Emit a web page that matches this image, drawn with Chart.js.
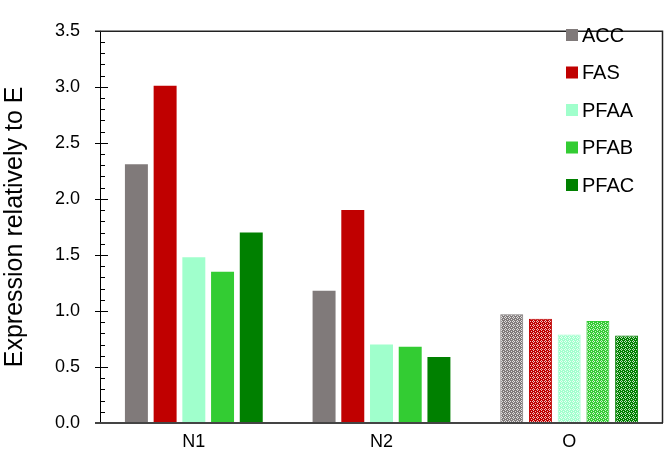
<!DOCTYPE html>
<html>
<head>
<meta charset="utf-8">
<script src="https://cdn.jsdelivr.net/npm/chart.js@4.4.1/dist/chart.umd.min.js"></script>
<style>
  html, body { margin: 0; padding: 0; background: #fff; }
  #wrap { width: 664px; height: 460px; }
</style>
</head>
<body>
<div id="wrap"><canvas id="expr" width="664" height="460"></canvas></div>
<script>
// values
const groups = ['N1', 'N2', 'O'];
const genes = ['ACC', 'FAS', 'PFAA', 'PFAB', 'PFAC'];
const colors = ['#807a7a', '#c00000', '#a0ffcc', '#33cc33', '#008000'];
const acc  = [2.31, 1.18, 0.97];
const fas  = [3.01, 1.90, 0.93];
const pfaa = [1.48, 0.70, 0.79];
const pfab = [1.35, 0.68, 0.91];
const pfac = [1.70, 0.59, 0.78];
const yTicks = [0, 0.5, 1, 1.5, 2, 2.5, 3, 3.5];
const yTitle = 'Expression relatively to E';
const FONT = '"Liberation Sans", Arial, sans-serif';

// little lattice pattern used for the O group
function hatch(col) {
  const c = document.createElement('canvas');
  c.width = 4; c.height = 4;
  const g = c.getContext('2d');
  g.fillStyle = col;
  g.fillRect(0, 0, 4, 4);
  g.fillStyle = 'rgba(255,255,255,0.75)';
  g.fillRect(1, 0, 1, 1);
  g.fillRect(0, 1, 1, 1);
  g.fillRect(2, 1, 1, 1);
  g.fillRect(1, 2, 1, 1);
  g.fillRect(3, 3, 1, 1);
  return g.createPattern(c, 'repeat');
}

const series = [acc, fas, pfaa, pfab, pfac];
const datasets = genes.map((name, i) => ({
  label: name,
  data: series[i],
  backgroundColor: [colors[i], colors[i], hatch(colors[i])],
  borderColor: colors[i],
  borderWidth: [0, 0, 1],
  barPercentage: 0.8,
  categoryPercentage: 0.765
}));

// box, inward ticks and the legend inside the plot
const frame = {
  id: 'frame',
  afterDraw(chart) {
    const { ctx, chartArea: a, scales } = chart;
    const y = scales.y;
    ctx.save();
    ctx.strokeStyle = '#000';
    ctx.lineWidth = 1;
    for (let v = 0; v <= 35; v++) {
      const py = Math.round(y.getPixelForValue(v / 10)) + 0.5;
      ctx.beginPath();
      if (v % 5 === 0) { ctx.moveTo(a.left - 5, py); ctx.lineTo(a.left + 8, py); }
      else { ctx.moveTo(a.left, py); ctx.lineTo(a.left + 5, py); }
      ctx.stroke();
    }
    ctx.beginPath();
    ctx.moveTo(a.left + 0.5, a.top);
    ctx.lineTo(a.left + 0.5, a.bottom);
    ctx.stroke();
    ctx.strokeStyle = '#444';
    ctx.lineWidth = 2;
    ctx.beginPath();
    ctx.moveTo(a.left - 5, a.bottom);
    ctx.lineTo(a.right, a.bottom);
    ctx.stroke();
    ctx.strokeStyle = '#222';
    ctx.lineWidth = 1.5;
    ctx.beginPath();
    ctx.moveTo(a.left - 5, a.top + 0.5);
    ctx.lineTo(a.right - 0.5, a.top + 0.5);
    ctx.lineTo(a.right - 0.5, a.bottom);
    ctx.stroke();

    ctx.font = '20px ' + FONT;
    ctx.textBaseline = 'middle';
    chart.data.datasets.forEach((ds, i) => {
      const cy = 35 + i * 37.5;
      ctx.fillStyle = ds.borderColor;
      ctx.fillRect(566, cy - 6, 12, 12);
      ctx.fillStyle = '#000';
      ctx.fillText(ds.label, 582, cy + 1);
    });
    ctx.restore();
  }
};

new Chart(document.getElementById('expr'), {
  type: 'bar',
  data: { labels: groups, datasets: datasets },
  options: {
    responsive: false,
    animation: false,
    layout: { padding: { top: 9, right: 1, left: 0, bottom: 0 } },
    plugins: { legend: { display: false }, tooltip: { enabled: false } },
    scales: {
      x: {
        grid: { display: false, drawTicks: false },
        border: { display: false },
        ticks: { color: '#000', font: { family: FONT, size: 18 }, padding: 8 },
        afterFit(s) { s.height = 37; }
      },
      y: {
        min: 0, max: 3.5,
        afterBuildTicks(s) { s.ticks = yTicks.map(v => ({ value: v })); },
        grid: { display: false, drawTicks: false },
        border: { display: false },
        ticks: {
          color: '#000', font: { family: FONT, size: 18 }, padding: 20,
          callback: v => Number(v).toFixed(1)
        },
        title: {
          display: true, text: yTitle, color: '#000',
          font: { family: FONT, size: 25 }, padding: { top: 0, bottom: 0 }
        },
        afterFit(s) { s.width = 100; }
      }
    }
  },
  plugins: [frame]
});
</script>
</body>
</html>
